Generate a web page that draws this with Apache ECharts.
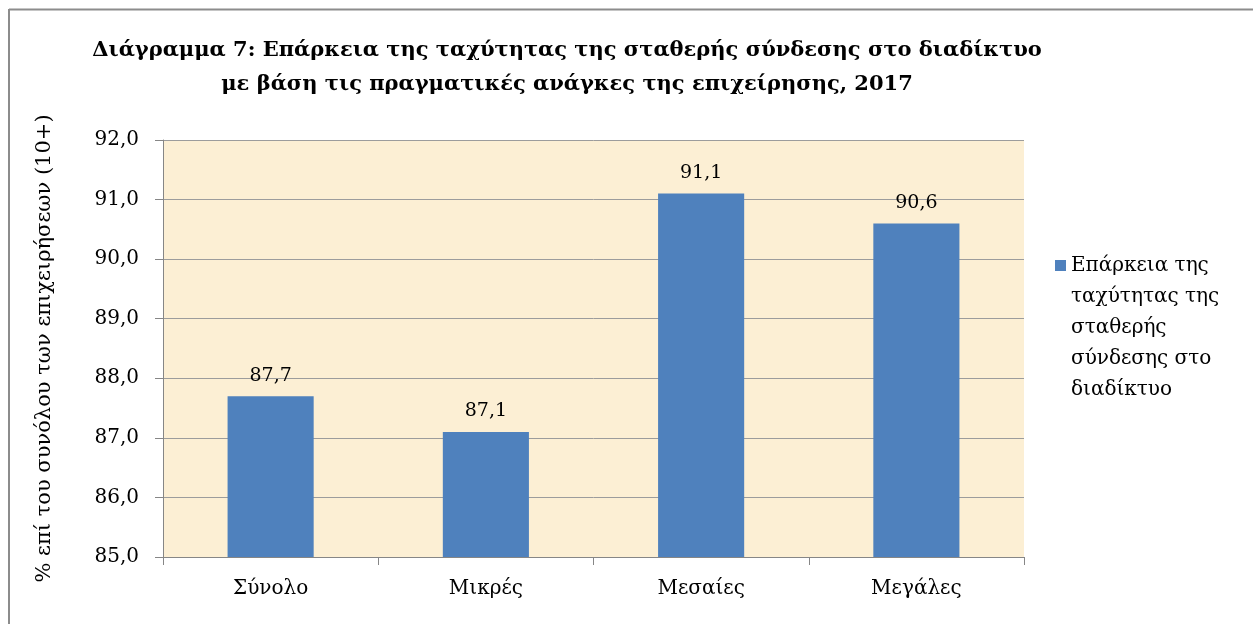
<!DOCTYPE html>
<html>
<head>
<meta charset="utf-8">
<script src="https://cdn.jsdelivr.net/npm/echarts@6/dist/echarts.min.js"></script>
<style>
  html, body { margin: 0; padding: 0; background: #fff; }
  #chart { width: 1253px; height: 624px; }
</style>
</head>
<body>
<div id="chart"></div>
<script>
// data
const categories = ['Σύνολο', 'Μικρές', 'Μεσαίες', 'Μεγάλες'];
const values = [87.7, 87.1, 91.1, 90.6];
const seriesName = 'Επάρκεια της ταχύτητας της σταθερής σύνδεσης στο διαδίκτυο';
const legendLines = ['Επάρκεια της', 'ταχύτητας της', 'σταθερής', 'σύνδεσης στο', 'διαδίκτυο'];
const titleText = 'Διάγραμμα 7: Επάρκεια της ταχύτητας της σταθερής σύνδεσης στο διαδίκτυο\nμε βάση τις πραγματικές ανάγκες της επιχείρησης, 2017';
const yAxisName = '% επί του συνόλου των επιχειρήσεων (10+)';
const yMin = 85, yMax = 92, yStep = 1;

// the original looks horizontally stretched, a wider serif fits its text widths better
const serif = '"DejaVu Serif", "Liberation Serif", serif';
const comma = v => v.toFixed(1).replace('.', ',');

const chart = echarts.init(document.getElementById('chart'));

chart.setOption({
  backgroundColor: '#fff',
  animation: false,
  textStyle: { fontFamily: serif, color: '#000' },
  title: {
    text: titleText,
    left: 562,
    top: 29,
    textAlign: 'center',
    textStyle: {
      fontFamily: serif,
      fontWeight: 'bold',
      fontSize: 21,
      lineHeight: 34,
      color: '#000'
    }
  },
  // outer frame (only top and left edges are visible in the picture)
  graphic: [
    { type: 'line', shape: { x1: 9, y1: 9.5, x2: 1253, y2: 9.5 }, style: { stroke: '#8c8c8c', lineWidth: 2 } },
    { type: 'line', shape: { x1: 9, y1: 9, x2: 9, y2: 624 }, style: { stroke: '#8c8c8c', lineWidth: 2 } }
  ],
  grid: {
    left: 163,
    right: 229,
    top: 140,
    bottom: 67,
    show: true,
    backgroundColor: '#fcefd4',
    borderWidth: 0
  },
  legend: {
    orient: 'vertical',
    left: 1055,
    top: 250,
    padding: 0,
    itemWidth: 11,
    itemHeight: 155,
    icon: 'path://M0,10L11,10L11,21L0,21ZM0,0L0.01,0ZM0,155L0.01,155',
    formatter: () => legendLines.join('\n'),
    textStyle: { fontFamily: serif, fontSize: 20, lineHeight: 31, color: '#000' },
    data: [seriesName]
  },
  xAxis: {
    type: 'category',
    data: categories,
    axisLine: { lineStyle: { color: '#868686', width: 1 } },
    axisTick: { show: true, alignWithLabel: false, length: 8, lineStyle: { color: '#868686' } },
    axisLabel: { fontFamily: serif, fontSize: 20, color: '#000', margin: 22 }
  },
  yAxis: {
    type: 'value',
    min: yMin,
    max: yMax,
    interval: yStep,
    name: yAxisName,
    nameLocation: 'middle',
    nameRotate: 90,
    nameGap: 108,
    nameTextStyle: { fontFamily: serif, fontSize: 21, color: '#000' },
    axisLine: { show: true, lineStyle: { color: '#868686', width: 1 } },
    axisTick: { show: true, length: 8, lineStyle: { color: '#868686' } },
    axisLabel: { fontFamily: serif, fontSize: 20, color: '#000', margin: 24, formatter: comma },
    splitLine: { lineStyle: { color: '#9c9c9c', width: 1 } }
  },
  series: [{
    name: seriesName,
    type: 'bar',
    data: values,
    barWidth: '40%',
    itemStyle: { color: '#4f81bd' },
    label: {
      show: true,
      position: 'top',
      distance: 11,
      fontFamily: serif,
      fontSize: 19,
      color: '#000',
      formatter: p => comma(p.value)
    }
  }]
});
</script>
</body>
</html>
